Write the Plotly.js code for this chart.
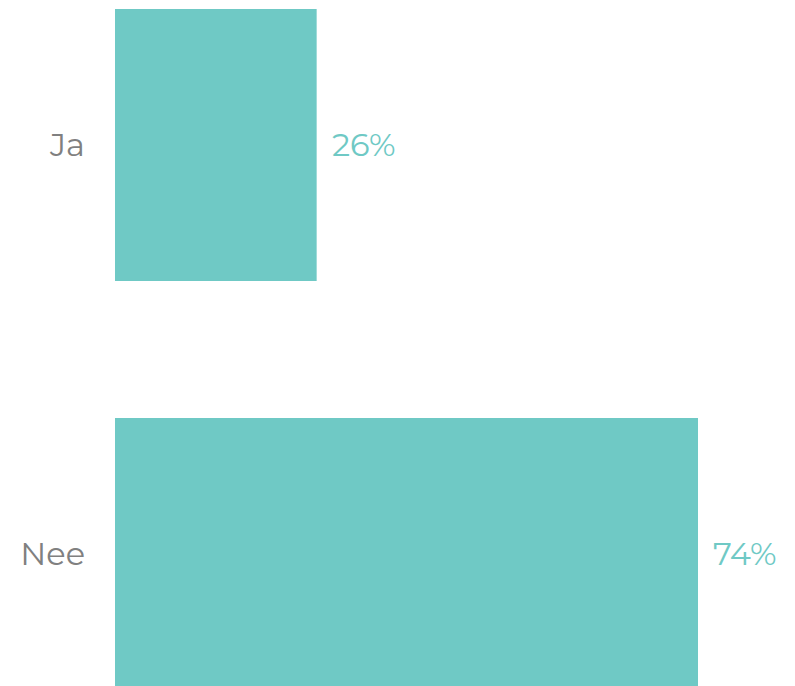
<!DOCTYPE html>
<html>
<head>
<meta charset="utf-8">
<script src="https://cdn.plot.ly/plotly-3.0.1.min.js"></script>
<style>html,body{margin:0;padding:0;background:#fff;}#chart{width:795px;height:686px;}</style>
</head>
<body>
<div id="chart"></div>
<script>
const categories = ["Ja", "Nee"];
const values = [25.7, 74.3];
const labels = ["26%", "74%"];

const teal = "#6fc9c5";
const fontFamily = "Montserrat, 'Open Sans', sans-serif";

const data = [{
  type: "bar",
  orientation: "h",
  y: categories,
  x: values,
  marker: {color: teal},
  hoverinfo: "skip"
}];

const annotations = categories.map((c, i) => ({
  x: values[i], y: c, xref: "x", yref: "y",
  text: labels[i], showarrow: false,
  xanchor: "left", yanchor: "middle", xshift: 13,
  font: {family: fontFamily, size: 32, color: teal}
}));

const layout = {
  width: 795, height: 686,
  margin: {l: 115, r: 0, t: 0, b: 0, pad: 0},
  paper_bgcolor: "#fff", plot_bgcolor: "#fff",
  bargap: 0.335,
  showlegend: false,
  xaxis: {range: [0, 86.66], visible: false, fixedrange: true},
  yaxis: {
    range: [1.3228, -0.3545],
    showgrid: false, zeroline: false, showline: false,
    ticks: "", ticklabelstandoff: 29,
    tickfont: {family: fontFamily, size: 32, color: "#808080"},
    fixedrange: true
  },
  annotations: annotations
};

Plotly.newPlot("chart", data, layout, {displayModeBar: false, staticPlot: true});
</script>
</body>
</html>
